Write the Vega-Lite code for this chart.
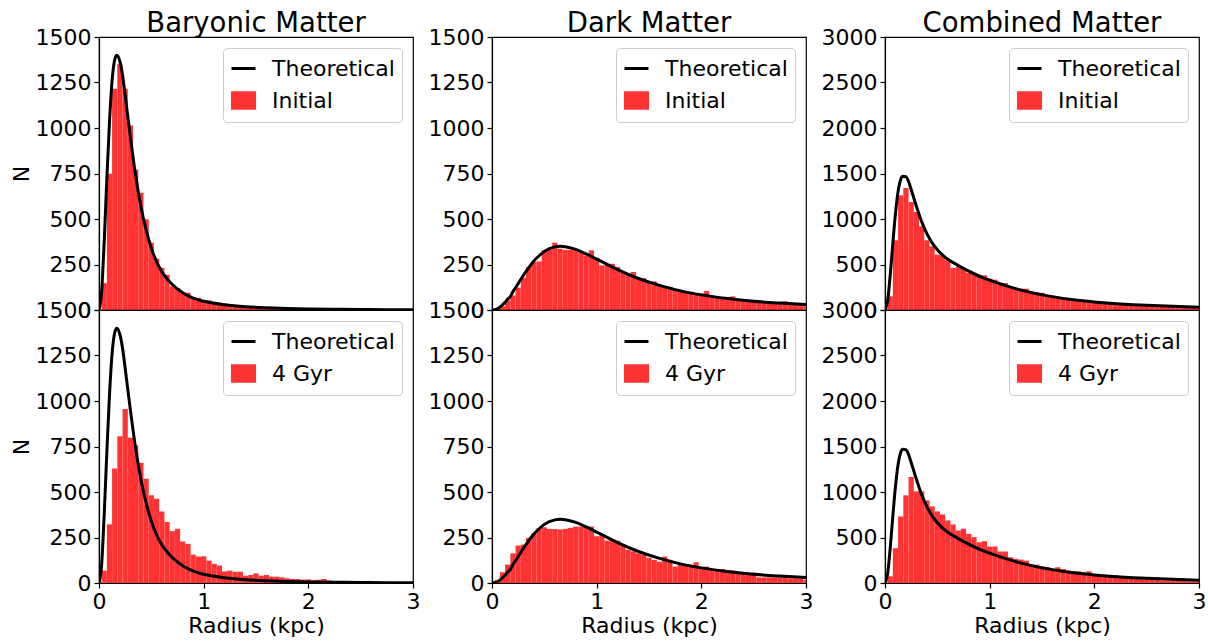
{
"$schema": "https://vega.github.io/schema/vega-lite/v6.json",
"background": "white",
"padding": {"left": 9, "top": 8, "right": 2, "bottom": 5},
"config": {
  "font": "DejaVu Sans",
  "view": {"stroke": "black", "strokeWidth": 1.2},
  "axis": {"grid": false, "domainColor": "black", "tickColor": "black", "labelColor": "black", "titleColor": "black", "labelFontSize": 22, "titleFontSize": 22, "titleFontWeight": "normal", "tickSize": 5, "labelPadding": 3, "domainWidth": 1.2, "tickWidth": 1.2, "labelFont": "DejaVu Sans", "titleFont": "DejaVu Sans", "format": "d"},
  "axisX": {"labelFlush": false, "titlePadding": 3},
  "axisY": {"labelOverlap": false},
  "title": {"fontSize": 27.5, "fontWeight": "normal", "font": "DejaVu Sans", "color": "black", "offset": -11},
  "legend": {"title": null, "orient": "top-right", "offset": 11, "padding": 7, "fillColor": "rgba(255,255,255,0.8)", "strokeColor": "#cccccc", "cornerRadius": 4, "labelFontSize": 22, "labelFont": "DejaVu Sans", "labelColor": "black", "symbolSize": 576, "rowPadding": 6, "labelOffset": 15, "symbolStrokeWidth": 3}
},
"datasets": {
"hist": [
{"r0":0.025,"r1":0.075,"bi":148,"b4":68,"di":7,"d4":17,"ci":150,"c4":74},
{"r0":0.075,"r1":0.125,"bi":748,"b4":322,"di":20,"d4":59,"ci":766,"c4":382},
{"r0":0.125,"r1":0.175,"bi":1215,"b4":629,"di":53,"d4":101,"ci":1260,"c4":731},
{"r0":0.175,"r1":0.225,"bi":1352,"b4":807,"di":80,"d4":163,"ci":1341,"c4":963},
{"r0":0.225,"r1":0.275,"bi":1215,"b4":956,"di":123,"d4":206,"ci":1187,"c4":1165},
{"r0":0.275,"r1":0.325,"bi":1014,"b4":798,"di":177,"d4":211,"ci":1077,"c4":1007},
{"r0":0.325,"r1":0.375,"bi":770,"b4":757,"di":236,"d4":248,"ci":919,"c4":1007},
{"r0":0.375,"r1":0.425,"bi":644,"b4":660,"di":263,"d4":273,"ci":766,"c4":908},
{"r0":0.425,"r1":0.475,"bi":498,"b4":573,"di":267,"d4":301,"ci":700,"c4":842},
{"r0":0.475,"r1":0.525,"bi":370,"b4":482,"di":328,"d4":306,"ci":608,"c4":787},
{"r0":0.525,"r1":0.575,"bi":282,"b4":463,"di":330,"d4":297,"ci":600,"c4":754},
{"r0":0.575,"r1":0.625,"bi":232,"b4":393,"di":370,"d4":297,"ci":546,"c4":687},
{"r0":0.625,"r1":0.675,"bi":194,"b4":335,"di":337,"d4":294,"ci":461,"c4":643},
{"r0":0.675,"r1":0.725,"bi":130,"b4":285,"di":331,"d4":297,"ci":473,"c4":577},
{"r0":0.725,"r1":0.775,"bi":121,"b4":298,"di":330,"d4":303,"ci":454,"c4":596},
{"r0":0.775,"r1":0.825,"bi":95,"b4":228,"di":328,"d4":310,"ci":410,"c4":540},
{"r0":0.825,"r1":0.875,"bi":95,"b4":215,"di":324,"d4":310,"ci":410,"c4":504},
{"r0":0.875,"r1":0.925,"bi":71,"b4":156,"di":300,"d4":306,"ci":388,"c4":448},
{"r0":0.925,"r1":0.975,"bi":66,"b4":145,"di":328,"d4":310,"ci":381,"c4":460},
{"r0":0.975,"r1":1.025,"bi":53,"b4":147,"di":287,"d4":257,"ci":344,"c4":401},
{"r0":1.025,"r1":1.075,"bi":53,"b4":123,"di":245,"d4":261,"ci":333,"c4":401},
{"r0":1.075,"r1":1.125,"bi":44,"b4":105,"di":250,"d4":233,"ci":300,"c4":346},
{"r0":1.125,"r1":1.175,"bi":40,"b4":96,"di":254,"d4":233,"ci":297,"c4":346},
{"r0":1.175,"r1":1.225,"bi":35,"b4":64,"di":236,"d4":233,"ci":260,"c4":283},
{"r0":1.225,"r1":1.275,"bi":30,"b4":68,"di":205,"d4":215,"ci":242,"c4":265},
{"r0":1.275,"r1":1.325,"bi":28,"b4":62,"di":200,"d4":182,"ci":234,"c4":257},
{"r0":1.325,"r1":1.375,"bi":22,"b4":62,"di":209,"d4":174,"ci":234,"c4":246},
{"r0":1.375,"r1":1.425,"bi":20,"b4":40,"di":177,"d4":163,"ci":205,"c4":202},
{"r0":1.425,"r1":1.475,"bi":18,"b4":44,"di":175,"d4":156,"ci":198,"c4":202},
{"r0":1.475,"r1":1.525,"bi":16,"b4":53,"di":155,"d4":138,"ci":190,"c4":184},
{"r0":1.525,"r1":1.575,"bi":14,"b4":40,"di":157,"d4":127,"ci":161,"c4":175},
{"r0":1.575,"r1":1.625,"bi":13,"b4":44,"di":140,"d4":117,"ci":140,"c4":154},
{"r0":1.625,"r1":1.675,"bi":11,"b4":35,"di":132,"d4":145,"ci":130,"c4":173},
{"r0":1.675,"r1":1.725,"bi":9,"b4":35,"di":128,"d4":128,"ci":122,"c4":154},
{"r0":1.725,"r1":1.775,"bi":9,"b4":31,"di":112,"d4":90,"ci":118,"c4":136},
{"r0":1.775,"r1":1.825,"bi":7,"b4":26,"di":108,"d4":110,"ci":108,"c4":129},
{"r0":1.825,"r1":1.875,"bi":8,"b4":22,"di":103,"d4":101,"ci":104,"c4":129},
{"r0":1.875,"r1":1.925,"bi":5,"b4":22,"di":100,"d4":101,"ci":98,"c4":118},
{"r0":1.925,"r1":1.975,"bi":6,"b4":18,"di":93,"d4":114,"ci":92,"c4":129},
{"r0":1.975,"r1":2.025,"bi":4,"b4":20,"di":90,"d4":77,"ci":86,"c4":99},
{"r0":2.025,"r1":2.075,"bi":3,"b4":15,"di":104,"d4":90,"ci":80,"c4":92},
{"r0":2.075,"r1":2.125,"bi":4,"b4":18,"di":80,"d4":77,"ci":80,"c4":81},
{"r0":2.125,"r1":2.175,"bi":2,"b4":22,"di":72,"d4":77,"ci":72,"c4":88},
{"r0":2.175,"r1":2.225,"bi":3,"b4":14,"di":70,"d4":77,"ci":70,"c4":88},
{"r0":2.225,"r1":2.275,"bi":2,"b4":10,"di":68,"d4":64,"ci":66,"c4":62},
{"r0":2.275,"r1":2.325,"bi":1,"b4":9,"di":75,"d4":68,"ci":60,"c4":62},
{"r0":2.325,"r1":2.375,"bi":2,"b4":8,"di":57,"d4":50,"ci":62,"c4":51},
{"r0":2.375,"r1":2.425,"bi":1,"b4":6,"di":55,"d4":50,"ci":55,"c4":51},
{"r0":2.425,"r1":2.475,"bi":1,"b4":5,"di":53,"d4":53,"ci":50,"c4":40},
{"r0":2.475,"r1":2.525,"bi":0,"b4":4,"di":52,"d4":57,"ci":46,"c4":40},
{"r0":2.525,"r1":2.575,"bi":1,"b4":4,"di":49,"d4":31,"ci":47,"c4":36},
{"r0":2.575,"r1":2.625,"bi":0,"b4":3,"di":46,"d4":31,"ci":42,"c4":36},
{"r0":2.625,"r1":2.675,"bi":1,"b4":3,"di":44,"d4":31,"ci":40,"c4":28},
{"r0":2.675,"r1":2.725,"bi":0,"b4":2,"di":41,"d4":31,"ci":38,"c4":28},
{"r0":2.725,"r1":2.775,"bi":0,"b4":2,"di":40,"d4":31,"ci":36,"c4":28},
{"r0":2.775,"r1":2.825,"bi":1,"b4":1,"di":48,"d4":44,"ci":35,"c4":28},
{"r0":2.825,"r1":2.875,"bi":0,"b4":2,"di":36,"d4":26,"ci":33,"c4":51},
{"r0":2.875,"r1":2.925,"bi":0,"b4":1,"di":35,"d4":26,"ci":32,"c4":18},
{"r0":2.925,"r1":2.975,"bi":0,"b4":1,"di":33,"d4":26,"ci":30,"c4":18},
{"r0":2.975,"r1":3.025,"bi":0,"b4":1,"di":31,"d4":18,"ci":29,"c4":18}
],
"theory": [
{"r":0,"b":0,"d":0,"c":0},
{"r":0.025,"b":100,"d":2,"c":102},
{"r":0.05,"b":380,"d":7,"c":387},
{"r":0.075,"b":720,"d":16,"c":736},
{"r":0.1,"b":1030,"d":28,"c":1058},
{"r":0.125,"b":1260,"d":42,"c":1302},
{"r":0.15,"b":1375,"d":60,"c":1435},
{"r":0.17,"b":1400,"d":70,"c":1470},
{"r":0.2,"b":1365,"d":101,"c":1466},
{"r":0.225,"b":1290,"d":122,"c":1412},
{"r":0.25,"b":1180,"d":145,"c":1325},
{"r":0.3,"b":950,"d":190,"c":1140},
{"r":0.35,"b":740,"d":231,"c":971},
{"r":0.4,"b":570,"d":269,"c":839},
{"r":0.45,"b":440,"d":298,"c":738},
{"r":0.5,"b":340,"d":322,"c":662},
{"r":0.6,"b":210,"d":347,"c":557},
{"r":0.65,"b":172,"d":350,"c":522},
{"r":0.7,"b":140,"d":348,"c":488},
{"r":0.8,"b":95,"d":333,"c":428},
{"r":0.9,"b":65,"d":308,"c":373},
{"r":1.0,"b":48,"d":280,"c":328},
{"r":1.2,"b":29,"d":222,"c":251},
{"r":1.4,"b":18,"d":173,"c":191},
{"r":1.6,"b":12,"d":135,"c":147},
{"r":1.8,"b":8,"d":105,"c":113},
{"r":2.0,"b":6,"d":83,"c":89},
{"r":2.25,"b":4,"d":63,"c":67},
{"r":2.5,"b":3,"d":48,"c":51},
{"r":2.75,"b":2,"d":38,"c":40},
{"r":3.0,"b":1.5,"d":30,"c":31.5}
]
},
"columns": 3,
"spacing": {"row": 0, "column": 79},
"bounds": "flush",
"resolve": {"scale": {"x": "independent", "y": "independent", "color": "independent"}, "legend": {"color": "independent"}},
"concat": [
 {"width": 314, "height": 273, "title": "Baryonic Matter", "layer": [
  {"data": {"name": "hist"}, "mark": {"type": "rect", "clip": true},
   "encoding": {
    "x": {"field": "r0", "type": "quantitative", "scale": {"domain": [0, 3], "nice": false}, "axis": {"values": [0,1,2,3], "labels": false, "ticks": false}, "title": null},
    "x2": {"field": "r1"},
    "y": {"field": "bi", "type": "quantitative", "scale": {"domain": [0, 1500], "nice": false}, "axis": {"values": [0,250,500,750,1000,1250,1500], "titlePadding": 2}, "title": "N"},
    "y2": {"datum": 0},
    "color": {"datum": "Initial", "type": "nominal", "scale": {"domain": ["Theoretical", "Initial"], "range": ["black", "#ff3333"]},
     "legend": {"encode": {"symbols": {"update": {"shape": {"signal": "datum.value === 'Theoretical' ? 'M-1,0H1' : 'M-0.92,-0.65H0.92V0.65H-0.92Z'"}, "fill": {"signal": "datum.value === 'Theoretical' ? 'transparent' : '#ff3333'"}, "stroke": {"signal": "datum.value === 'Theoretical' ? 'black' : 'transparent'"}, "strokeWidth": {"value": 3}, "opacity": {"value": 1}}}}}}
   }},
  {"data": {"name": "theory"}, "mark": {"type": "line", "strokeWidth": 3, "interpolate": "monotone", "clip": true},
   "encoding": {"x": {"field": "r", "type": "quantitative", "title": null}, "y": {"field": "b", "type": "quantitative", "title": "N"}, "color": {"datum": "Theoretical", "type": "nominal"}}}
 ]},
 {"width": 314, "height": 273, "title": "Dark Matter", "layer": [
  {"data": {"name": "hist"}, "mark": {"type": "rect", "clip": true},
   "encoding": {
    "x": {"field": "r0", "type": "quantitative", "scale": {"domain": [0, 3], "nice": false}, "axis": {"values": [0,1,2,3], "labels": false, "ticks": false}, "title": null},
    "x2": {"field": "r1"},
    "y": {"field": "di", "type": "quantitative", "scale": {"domain": [0, 1500], "nice": false}, "axis": {"values": [0,250,500,750,1000,1250,1500]}, "title": null},
    "y2": {"datum": 0},
    "color": {"datum": "Initial", "type": "nominal", "scale": {"domain": ["Theoretical", "Initial"], "range": ["black", "#ff3333"]},
     "legend": {"encode": {"symbols": {"update": {"shape": {"signal": "datum.value === 'Theoretical' ? 'M-1,0H1' : 'M-0.92,-0.65H0.92V0.65H-0.92Z'"}, "fill": {"signal": "datum.value === 'Theoretical' ? 'transparent' : '#ff3333'"}, "stroke": {"signal": "datum.value === 'Theoretical' ? 'black' : 'transparent'"}, "strokeWidth": {"value": 3}, "opacity": {"value": 1}}}}}}
   }},
  {"data": {"name": "theory"}, "mark": {"type": "line", "strokeWidth": 3, "interpolate": "monotone", "clip": true},
   "encoding": {"x": {"field": "r", "type": "quantitative", "title": null}, "y": {"field": "d", "type": "quantitative", "title": null}, "color": {"datum": "Theoretical", "type": "nominal"}}}
 ]},
 {"width": 314, "height": 273, "title": "Combined Matter", "layer": [
  {"data": {"name": "hist"}, "mark": {"type": "rect", "clip": true},
   "encoding": {
    "x": {"field": "r0", "type": "quantitative", "scale": {"domain": [0, 3], "nice": false}, "axis": {"values": [0,1,2,3], "labels": false, "ticks": false}, "title": null},
    "x2": {"field": "r1"},
    "y": {"field": "ci", "type": "quantitative", "scale": {"domain": [0, 3000], "nice": false}, "axis": {"values": [0,500,1000,1500,2000,2500,3000]}, "title": null},
    "y2": {"datum": 0},
    "color": {"datum": "Initial", "type": "nominal", "scale": {"domain": ["Theoretical", "Initial"], "range": ["black", "#ff3333"]},
     "legend": {"encode": {"symbols": {"update": {"shape": {"signal": "datum.value === 'Theoretical' ? 'M-1,0H1' : 'M-0.92,-0.65H0.92V0.65H-0.92Z'"}, "fill": {"signal": "datum.value === 'Theoretical' ? 'transparent' : '#ff3333'"}, "stroke": {"signal": "datum.value === 'Theoretical' ? 'black' : 'transparent'"}, "strokeWidth": {"value": 3}, "opacity": {"value": 1}}}}}}
   }},
  {"data": {"name": "theory"}, "mark": {"type": "line", "strokeWidth": 3, "interpolate": "monotone", "clip": true},
   "encoding": {"x": {"field": "r", "type": "quantitative", "title": null}, "y": {"field": "c", "type": "quantitative", "title": null}, "color": {"datum": "Theoretical", "type": "nominal"}}}
 ]},
 {"width": 314, "height": 273, "layer": [
  {"data": {"name": "hist"}, "mark": {"type": "rect", "clip": true},
   "encoding": {
    "x": {"field": "r0", "type": "quantitative", "scale": {"domain": [0, 3], "nice": false}, "axis": {"values": [0,1,2,3]}, "title": "Radius (kpc)"},
    "x2": {"field": "r1"},
    "y": {"field": "b4", "type": "quantitative", "scale": {"domain": [0, 1500], "nice": false}, "axis": {"values": [0,250,500,750,1000,1250,1500], "titlePadding": 2}, "title": "N"},
    "y2": {"datum": 0},
    "color": {"datum": "4 Gyr", "type": "nominal", "scale": {"domain": ["Theoretical", "4 Gyr"], "range": ["black", "#ff3333"]},
     "legend": {"encode": {"symbols": {"update": {"shape": {"signal": "datum.value === 'Theoretical' ? 'M-1,0H1' : 'M-0.92,-0.65H0.92V0.65H-0.92Z'"}, "fill": {"signal": "datum.value === 'Theoretical' ? 'transparent' : '#ff3333'"}, "stroke": {"signal": "datum.value === 'Theoretical' ? 'black' : 'transparent'"}, "strokeWidth": {"value": 3}, "opacity": {"value": 1}}}}}}
   }},
  {"data": {"name": "theory"}, "mark": {"type": "line", "strokeWidth": 3, "interpolate": "monotone", "clip": true},
   "encoding": {"x": {"field": "r", "type": "quantitative", "title": "Radius (kpc)"}, "y": {"field": "b", "type": "quantitative", "title": "N"}, "color": {"datum": "Theoretical", "type": "nominal"}}}
 ]},
 {"width": 314, "height": 273, "layer": [
  {"data": {"name": "hist"}, "mark": {"type": "rect", "clip": true},
   "encoding": {
    "x": {"field": "r0", "type": "quantitative", "scale": {"domain": [0, 3], "nice": false}, "axis": {"values": [0,1,2,3]}, "title": "Radius (kpc)"},
    "x2": {"field": "r1"},
    "y": {"field": "d4", "type": "quantitative", "scale": {"domain": [0, 1500], "nice": false}, "axis": {"values": [0,250,500,750,1000,1250,1500]}, "title": null},
    "y2": {"datum": 0},
    "color": {"datum": "4 Gyr", "type": "nominal", "scale": {"domain": ["Theoretical", "4 Gyr"], "range": ["black", "#ff3333"]},
     "legend": {"encode": {"symbols": {"update": {"shape": {"signal": "datum.value === 'Theoretical' ? 'M-1,0H1' : 'M-0.92,-0.65H0.92V0.65H-0.92Z'"}, "fill": {"signal": "datum.value === 'Theoretical' ? 'transparent' : '#ff3333'"}, "stroke": {"signal": "datum.value === 'Theoretical' ? 'black' : 'transparent'"}, "strokeWidth": {"value": 3}, "opacity": {"value": 1}}}}}}
   }},
  {"data": {"name": "theory"}, "mark": {"type": "line", "strokeWidth": 3, "interpolate": "monotone", "clip": true},
   "encoding": {"x": {"field": "r", "type": "quantitative", "title": "Radius (kpc)"}, "y": {"field": "d", "type": "quantitative", "title": null}, "color": {"datum": "Theoretical", "type": "nominal"}}}
 ]},
 {"width": 314, "height": 273, "layer": [
  {"data": {"name": "hist"}, "mark": {"type": "rect", "clip": true},
   "encoding": {
    "x": {"field": "r0", "type": "quantitative", "scale": {"domain": [0, 3], "nice": false}, "axis": {"values": [0,1,2,3]}, "title": "Radius (kpc)"},
    "x2": {"field": "r1"},
    "y": {"field": "c4", "type": "quantitative", "scale": {"domain": [0, 3000], "nice": false}, "axis": {"values": [0,500,1000,1500,2000,2500,3000]}, "title": null},
    "y2": {"datum": 0},
    "color": {"datum": "4 Gyr", "type": "nominal", "scale": {"domain": ["Theoretical", "4 Gyr"], "range": ["black", "#ff3333"]},
     "legend": {"encode": {"symbols": {"update": {"shape": {"signal": "datum.value === 'Theoretical' ? 'M-1,0H1' : 'M-0.92,-0.65H0.92V0.65H-0.92Z'"}, "fill": {"signal": "datum.value === 'Theoretical' ? 'transparent' : '#ff3333'"}, "stroke": {"signal": "datum.value === 'Theoretical' ? 'black' : 'transparent'"}, "strokeWidth": {"value": 3}, "opacity": {"value": 1}}}}}}
   }},
  {"data": {"name": "theory"}, "mark": {"type": "line", "strokeWidth": 3, "interpolate": "monotone", "clip": true},
   "encoding": {"x": {"field": "r", "type": "quantitative", "title": "Radius (kpc)"}, "y": {"field": "c", "type": "quantitative", "title": null}, "color": {"datum": "Theoretical", "type": "nominal"}}}
 ]}
]
}
